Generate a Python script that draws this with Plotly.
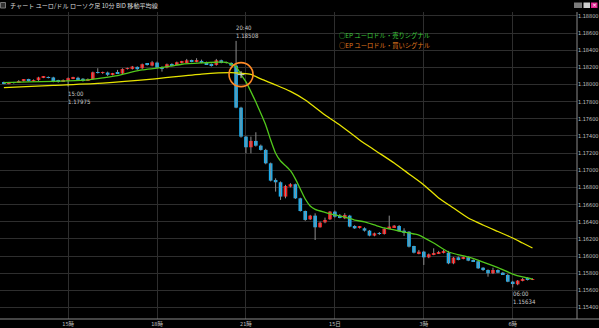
import pandas as pd
import plotly.graph_objects as go

title_text = "チャート ユーロ/ドル ローソク足 10分 BID 移動平均線"
legend_sell = "○EP ユーロドル・売りシグナル"
legend_buy = "○EP ユーロドル・買いシグナル"

start_time = "2017-12-14 12:50"

opens = [1.18026, 1.18010, 1.18022, 1.18026, 1.18041, 1.18059, 1.18041, 1.18051, 1.18082, 1.18086,
         1.18082, 1.18041, 1.18038, 1.18051, 1.18071, 1.18078, 1.18067, 1.18051, 1.18063, 1.18142,
         1.18135, 1.18139, 1.18113, 1.18131, 1.18127, 1.18181, 1.18181, 1.18205, 1.18189, 1.18236,
         1.18220, 1.18255, 1.18201, 1.18197, 1.18236, 1.18236, 1.18259, 1.18259, 1.18282, 1.18267,
         1.18275, 1.18259, 1.18236, 1.18228, 1.18282, 1.18259, 1.18251, 1.18220, 1.17730, 1.17392,
         1.17268, 1.17342, 1.17287, 1.17237, 1.17081, 1.16887, 1.16860, 1.16693, 1.16809, 1.16837,
         1.16673, 1.16525, 1.16428, 1.16471, 1.16335, 1.16393, 1.16428, 1.16518, 1.16471, 1.16440,
         1.16471, 1.16350, 1.16331, 1.16323, 1.16296, 1.16238, 1.16265, 1.16257, 1.16323, 1.16335,
         1.16350, 1.16296, 1.16284, 1.16117, 1.16032, 1.16051, 1.15985, 1.16020, 1.16032, 1.16039,
         1.16039, 1.15915, 1.15985, 1.15974, 1.15985, 1.15954, 1.15939, 1.15864, 1.15837, 1.15799,
         1.15837, 1.15806, 1.15779, 1.15701, 1.15671, 1.15713, 1.15740, 1.15724]
highs = [1.18034, 1.18030, 1.18030, 1.18051, 1.18063, 1.18067, 1.18059, 1.18090, 1.18098, 1.18094,
         1.18090, 1.18055, 1.18059, 1.18082, 1.18090, 1.18090, 1.18074, 1.18071, 1.18150, 1.18189,
         1.18150, 1.18150, 1.18135, 1.18170, 1.18189, 1.18197, 1.18216, 1.18212, 1.18244, 1.18247,
         1.18275, 1.18267, 1.18212, 1.18244, 1.18247, 1.18267, 1.18275, 1.18298, 1.18290, 1.18306,
         1.18290, 1.18267, 1.18244, 1.18298, 1.18290, 1.18267, 1.18259, 1.18508, 1.17740, 1.17400,
         1.17392, 1.17443, 1.17300, 1.17250, 1.17090, 1.16906, 1.16870, 1.16830, 1.16850, 1.16845,
         1.16680, 1.16530, 1.16480, 1.16498, 1.16401, 1.16448, 1.16525, 1.16530, 1.16490, 1.16500,
         1.16480, 1.16360, 1.16350, 1.16335, 1.16304, 1.16273, 1.16280, 1.16323, 1.16471, 1.16362,
         1.16362, 1.16324, 1.16290, 1.16120, 1.16071, 1.16060, 1.16030, 1.16090, 1.16060, 1.16071,
         1.16060, 1.15990, 1.15995, 1.15995, 1.15995, 1.15962, 1.15946, 1.15870, 1.15845, 1.15864,
         1.15845, 1.15815, 1.15790, 1.15710, 1.15720, 1.15745, 1.15752, 1.15740]
lows = [1.18003, 1.18003, 1.18010, 1.18022, 1.18034, 1.18034, 1.18034, 1.18041, 1.18074, 1.18071,
        1.18026, 1.18022, 1.18030, 1.17975, 1.18063, 1.18051, 1.18034, 1.18041, 1.18055, 1.18127,
        1.18123, 1.18098, 1.18106, 1.18121, 1.18121, 1.18174, 1.18174, 1.18170, 1.18181, 1.18220,
        1.18212, 1.18189, 1.18150, 1.18189, 1.18209, 1.18228, 1.18247, 1.18251, 1.18259, 1.18259,
        1.18247, 1.18228, 1.18209, 1.18220, 1.18247, 1.18244, 1.18212, 1.17723, 1.17380, 1.17198,
        1.17198, 1.17276, 1.17230, 1.17070, 1.16870, 1.16751, 1.16654, 1.16673, 1.16800, 1.16665,
        1.16518, 1.16410, 1.16421, 1.16187, 1.16331, 1.16382, 1.16421, 1.16448, 1.16440, 1.16430,
        1.16335, 1.16316, 1.16320, 1.16285, 1.16230, 1.16230, 1.16246, 1.16250, 1.16316, 1.16331,
        1.16285, 1.16234, 1.16100, 1.16030, 1.16020, 1.15896, 1.15975, 1.16010, 1.16025, 1.16030,
        1.15905, 1.15905, 1.15950, 1.15962, 1.15940, 1.15930, 1.15850, 1.15825, 1.15759, 1.15790,
        1.15800, 1.15780, 1.15695, 1.15634, 1.15660, 1.15705, 1.15715, 1.15720]
closes = [1.18006, 1.18022, 1.18018, 1.18041, 1.18055, 1.18041, 1.18051, 1.18082, 1.18090, 1.18078,
          1.18034, 1.18038, 1.18045, 1.18074, 1.18086, 1.18059, 1.18041, 1.18059, 1.18142, 1.18135,
          1.18139, 1.18113, 1.18131, 1.18127, 1.18181, 1.18189, 1.18209, 1.18178, 1.18236, 1.18232,
          1.18259, 1.18197, 1.18181, 1.18236, 1.18216, 1.18259, 1.18263, 1.18282, 1.18267, 1.18275,
          1.18259, 1.18236, 1.18220, 1.18282, 1.18259, 1.18251, 1.18220, 1.17730, 1.17392, 1.17268,
          1.17342, 1.17287, 1.17237, 1.17081, 1.16879, 1.16860, 1.16693, 1.16817, 1.16837, 1.16673,
          1.16525, 1.16421, 1.16471, 1.16335, 1.16389, 1.16421, 1.16518, 1.16459, 1.16448, 1.16479,
          1.16343, 1.16323, 1.16343, 1.16296, 1.16238, 1.16265, 1.16257, 1.16316, 1.16343, 1.16354,
          1.16290, 1.16270, 1.16109, 1.16039, 1.16051, 1.15985, 1.16020, 1.16032, 1.16044, 1.16051,
          1.15915, 1.15981, 1.15962, 1.15985, 1.15946, 1.15939, 1.15857, 1.15837, 1.15799, 1.15837,
          1.15806, 1.15787, 1.15701, 1.15674, 1.15713, 1.15732, 1.15721, 1.15732]

# short moving average (green), read at these bar numbers
ma_fast_bar = [0, 5, 10, 13, 17, 20, 23, 26, 28, 31, 34, 36, 40, 43, 45, 47, 48, 49, 50, 51, 52, 53,
               54, 55, 56, 57, 58, 59, 60, 61, 62, 63, 65, 67, 69, 71, 73, 75, 77, 79, 81, 83, 84,
               87, 90, 94, 97, 100, 103, 105, 107]
ma_fast = [1.18022, 1.18030, 1.18036, 1.18041, 1.18053, 1.18076, 1.18103, 1.18146, 1.18170, 1.18190,
           1.18216, 1.18236, 1.18251, 1.18259, 1.18259, 1.18208, 1.18115, 1.18030, 1.17917, 1.17795,
           1.17665, 1.17528, 1.17353, 1.17198, 1.17108, 1.17054, 1.16995, 1.16899, 1.16782, 1.16665,
           1.16584, 1.16545, 1.16510, 1.16479, 1.16455, 1.16420, 1.16397, 1.16362, 1.16327, 1.16304,
           1.16280, 1.16257, 1.16245, 1.16152, 1.16047, 1.15989, 1.15930, 1.15866, 1.15790, 1.15756,
           1.15732]

# long moving average (yellow)
ma_slow_bar = [0, 10, 20, 30, 40, 46, 48, 50, 52, 55, 58, 61, 65, 68, 72, 75, 79, 82, 85, 88, 91,
               94, 97, 100, 103, 105, 107]
ma_slow = [1.17963, 1.17990, 1.18016, 1.18062, 1.18121, 1.18138, 1.18131, 1.18118, 1.18065, 1.17995,
           1.17919, 1.17820, 1.17645, 1.17528, 1.17353, 1.17237, 1.17085, 1.16957, 1.16829, 1.16677,
           1.16560, 1.16444, 1.16362, 1.16286, 1.16210, 1.16152, 1.16094]

signal_bar = 48
signal_price = 1.18115

tick_times = ["2017-12-14 15:00", "2017-12-14 18:00", "2017-12-14 21:00",
              "2017-12-15 00:00", "2017-12-15 03:00", "2017-12-15 06:00"]
tick_text = ["15時", "18時", "21時", "15日", "3時", "6時"]
price_ticks = [1.154, 1.156, 1.158, 1.160, 1.162, 1.164, 1.166, 1.168, 1.170, 1.172,
               1.174, 1.176, 1.178, 1.180, 1.182, 1.184, 1.186, 1.188]

high_bar, low1_bar, low2_bar = 47, 13, 103

times = pd.date_range(start_time, periods=len(opens), freq="10min")

UP = "#ff1a1a"
DOWN = "#18aef0"
WICK = "#8c8c8c"
SMALL = "Liberation Sans Narrow, DejaVu Sans Condensed, Noto Sans CJK JP, sans-serif"
CJK = "Noto Sans CJK JP, sans-serif"
BODY_MS = 0.74 * 600000  # body width: fraction of a 10-minute bar

fig = go.Figure()

# wicks
wx, wy = [], []
for t, lo, hi in zip(times, lows, highs):
    wx += [t, t, None]
    wy += [lo, hi, None]
fig.add_trace(go.Scatter(x=wx, y=wy, mode="lines", line=dict(color=WICK, width=1),
                         hoverinfo="skip", showlegend=False))

# bodies
for rising, color in ((True, UP), (False, DOWN)):
    bx, bbase, bh = [], [], []
    for t, o, c in zip(times, opens, closes):
        if (c >= o) == rising:
            bx.append(t)
            bbase.append(min(o, c))
            bh.append(max(abs(c - o), 0.00008))
    fig.add_trace(go.Bar(x=bx, y=bh, base=bbase, width=BODY_MS, marker=dict(color=color, line=dict(width=0)),
                         showlegend=False, hoverinfo="skip"))

fig.add_trace(go.Scatter(x=[times[i] for i in ma_slow_bar], y=ma_slow, mode="lines",
                         line=dict(color="#e8e400", width=1.3, shape="spline", smoothing=0.6),
                         showlegend=False, hoverinfo="skip"))
fig.add_trace(go.Scatter(x=[times[i] for i in ma_fast_bar], y=ma_fast, mode="lines",
                         line=dict(color="#52c81c", width=1.3, shape="spline", smoothing=0.6),
                         showlegend=False, hoverinfo="skip"))

fig.add_trace(go.Scatter(x=[times[signal_bar]], y=[signal_price], mode="markers",
                         marker=dict(symbol="circle-open", size=24, color="#ff8a26",
                                     line=dict(width=1.6, color="#ff8a26")),
                         showlegend=False, hoverinfo="skip"))
fig.add_trace(go.Scatter(x=[times[signal_bar]], y=[signal_price], mode="markers",
                         marker=dict(symbol="cross-thin-open", size=5, color="#d0d0d0",
                                     line=dict(width=1, color="#d0d0d0")),
                         showlegend=False, hoverinfo="skip"))

ann = []
ann.append(dict(x=times[high_bar], y=highs[high_bar], xref="x", yref="y",
                text=times[high_bar].strftime("%H:%M") + "<br>" + f"{highs[high_bar]:.5f}",
                showarrow=False, xanchor="left", yanchor="bottom", xshift=-2, yshift=0,
                align="left", font=dict(family=SMALL, size=6, color="#c8c8c8")))
for b in (low1_bar, low2_bar):
    ann.append(dict(x=times[b], y=lows[b], xref="x", yref="y",
                    text=times[b].strftime("%H:%M") + "<br>" + f"{lows[b]:.5f}",
                    showarrow=False, xanchor="left", yanchor="top", xshift=-2, yshift=-1,
                    align="left", font=dict(family=SMALL, size=6, color="#c8c8c8")))

# pixel helpers for paper positions (plot area: x 0..577, y 12..319)
def px(x):
    return x / 577.0

def py(y):
    return (319.0 - y) / 307.0

ann.append(dict(x=px(337), y=py(35.5), xref="paper", yref="paper", text=legend_sell,
                showarrow=False, xanchor="left", yanchor="middle",
                font=dict(family=CJK, size=6.3, color="#3cc83c")))
ann.append(dict(x=px(337), y=py(45.5), xref="paper", yref="paper", text=legend_buy,
                showarrow=False, xanchor="left", yanchor="middle",
                font=dict(family=CJK, size=6.3, color="#e07a1e")))
ann.append(dict(x=px(8), y=py(5.5), xref="paper", yref="paper", text=title_text,
                showarrow=False, xanchor="left", yanchor="middle",
                font=dict(family=CJK, size=6.1, color="#dcdcdc")))
ann.append(dict(x=px(594.2), y=py(5), xref="paper", yref="paper", text="×",
                showarrow=False, xanchor="center", yanchor="middle",
                font=dict(family="DejaVu Sans", size=6, color="#ffffff")))

shapes = [
    dict(type="rect", xref="paper", yref="paper", x0=px(0.5), x1=px(5.5), y0=py(8), y1=py(2.5),
         line=dict(color="#777777", width=1), fillcolor="#333333"),
    dict(type="rect", xref="paper", yref="paper", x0=px(574), x1=px(582), y0=py(8), y1=py(2.5),
         line=dict(width=0), fillcolor="#7a7a7a"),
    dict(type="rect", xref="paper", yref="paper", x0=px(583.5), x1=px(590), y0=py(8), y1=py(2.5),
         line=dict(width=0), fillcolor="#cfcfcf"),
    dict(type="rect", xref="paper", yref="paper", x0=px(591), x1=px(597.5), y0=py(8), y1=py(2.5),
         line=dict(width=0), fillcolor="#e0248c"),
    dict(type="line", xref="paper", yref="paper", x0=px(0), x1=px(599), y0=0, y1=0,
         line=dict(color="#8a8a8a", width=1)),
    dict(type="line", xref="paper", yref="paper", x0=1, x1=1, y0=0, y1=1,
         line=dict(color="#8a8a8a", width=1)),
]

fig.update_layout(
    width=599, height=328,
    margin=dict(l=0, r=22, t=12, b=9),
    paper_bgcolor="#000000", plot_bgcolor="#000000",
    showlegend=False, barmode="overlay",
    annotations=ann, shapes=shapes,
    hovermode=False,
)
fig.update_xaxes(
    type="date",
    range=["2017-12-14 12:42:06", "2017-12-15 08:10:06"],
    tickvals=tick_times, ticktext=tick_text,
    showgrid=True, gridcolor="#2e2e2e", gridwidth=1,
    zeroline=False, showline=False, ticks="",
    tickfont=dict(family=SMALL, size=5.5, color="#c0c0c0"),
)
fig.update_yaxes(
    range=[1.15266, 1.18845],
    side="right",
    tickvals=price_ticks, ticktext=[f"{v:.5f}" for v in price_ticks],
    showgrid=True, gridcolor="#2e2e2e", gridwidth=1,
    zeroline=False, showline=False, ticks="",
    tickfont=dict(family=SMALL, size=5.5, color="#c0c0c0"),
)

fig.write_html("out.html")
